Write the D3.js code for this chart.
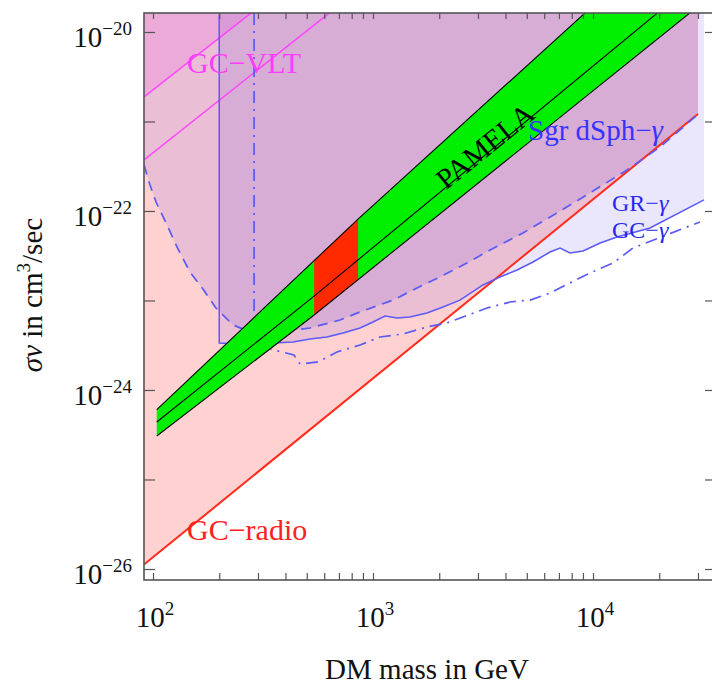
<!DOCTYPE html>
<html><head><meta charset="utf-8">
<script src="https://cdn.jsdelivr.net/npm/d3@7"></script>
<style>
body{margin:0;background:#fff}
svg{display:block}
text{font-family:"Liberation Serif","Times New Roman",serif}
</style>
</head><body>
<svg id="c" width="712" height="687"></svg>
<script>
// ---------------- data ----------------
const xTickValues = [100,200,300,400,500,600,700,800,900,1000,2000,3000,4000,5000,6000,7000,8000,9000,10000,20000,30000];
const xTickLabels = [[100,"2"],[1000,"3"],[10000,"4"]];
const yTickValues = [1e-26,1e-25,1e-24,1e-23,1e-22,1e-21,1e-20];
const yTickLabels = [[1e-26,"−26"],[1e-24,"−24"],[1e-22,"−22"],[1e-20,"−20"]];

// GC-radio bound
const massRadio  = [91, 30000];
const sigmaRadio = [1.12e-26, 1.21e-21];

// GC-VLT bounds (two lines)
const massVLT        = [91, 1000];
const sigmaVLTlow    = [3.72e-22, 3.98e-20];
const sigmaVLThigh   = [1.88e-21, 1.90e-19];

// Sgr dSph - gamma (dashed)
const massSgr  = [91,96.9,103.2,115.8,128.5,147.2,168.7,193.2,231,270,358,517,708,873,1233,1585,2016,2673,3404,4808,6860,9683,14280,20170,30000];
const sigmaSgr = [3.27e-22,1.95e-22,1.26e-22,6.98e-23,3.96e-23,2.08e-23,1.34e-23,8.24e-24,5.32e-24,4.56e-24,4.34e-24,4.93e-24,6.05e-24,7.45e-24,1.01e-23,1.38e-23,1.83e-23,2.62e-23,3.66e-23,5.68e-23,9.51e-23,1.59e-22,2.87e-22,5.19e-22,1.20e-21];

// GC - gamma (solid, with vertical threshold at 200 GeV)
const massGC  = [200,276,351,433,517,618,731,873,1000,1134,1285,1472,1759,2080,2485,3162,3776,4518,5337,6377,7085,7855,9016,10770,12860,18150,31950];
const sigmaGC = [3.35e-24,3.18e-24,3.35e-24,3.44e-24,3.72e-24,3.91e-24,4.34e-24,4.93e-24,5.75e-24,6.71e-24,6.37e-24,6.55e-24,7.24e-24,8.45e-24,1.01e-23,1.49e-23,1.83e-23,2.19e-23,2.69e-23,3.48e-23,3.86e-23,3.40e-23,3.57e-23,4.39e-23,5.12e-23,6.46e-23,1.33e-22];

// GR - gamma (dash-dot, with vertical threshold at ~288 GeV)
const massGR  = [288,288,437,466,562,686,873,1076,1368,1759,2168,2564,3297,4198,5176,6377,7855,9683,12330,15200,30620];
const sigmaGR = [1.63e-20,3.18e-24,2.46e-24,1.95e-24,2.06e-24,2.66e-24,3.18e-24,3.91e-24,4.23e-24,5.06e-24,5.61e-24,6.55e-24,8.24e-24,9.62e-24,1.01e-23,1.21e-23,1.57e-23,2.03e-23,2.62e-23,3.86e-23,7.53e-23];

// PAMELA band
const massPamUp   = [104, 855, 12000];
const sigmaPamUp  = [6.03e-25, 8.13e-23, 2.95e-20];
const massPamMid  = [104, 540, 25120];
const sigmaPamMid = [4.39e-25, 1.12e-23, 2.69e-20];
const massPamLow  = [104, 540, 31620];
const sigmaPamLow = [3.06e-25, 6.89e-24, 2.14e-20];
// red patch inside the band
const massRed      = [540, 855];
const sigmaRedUp   = [2.78e-23, 8.13e-23];
const sigmaRedLow  = [6.89e-24, 1.71e-23];

// ---------------- drawing ----------------
const svg = d3.select("#c");
const x = d3.scaleLog().domain([91, 35480]).range([144, 714]);
const y = d3.scaleLog().domain([Math.pow(10,-26.123), Math.pow(10,-19.788)]).range([580, 13]);
const yTop = y.domain()[1];
const [x0,x1] = x.range(), [y0,y1] = y.range();

svg.append("clipPath").attr("id","clip").append("rect")
  .attr("x",x0).attr("y",y1).attr("width",x1-x0).attr("height",y0-y1);

const line = d3.line().x(d=>x(d[0])).y(d=>y(d[1]));
const poly = pts => line(pts) + "Z";

const g = svg.append("g").attr("clip-path","url(#clip)");

// fills
const radioPts = d3.zip(massRadio, sigmaRadio);
g.append("path").attr("d", poly([...radioPts, [massRadio[1], yTop], [massRadio[0], yTop]]))
  .attr("fill","rgb(255,0,0)").attr("fill-opacity",0.18);

const sgrPts = d3.zip(massSgr, sigmaSgr);
g.append("path").attr("d", poly([...sgrPts, [massSgr[massSgr.length-1], yTop], [massSgr[0], yTop]]))
  .attr("fill","rgb(90,60,230)").attr("fill-opacity",0.13);

const gcPts = d3.zip(massGC, sigmaGC);
g.append("path").attr("d", poly([[massGC[0], yTop], ...gcPts, [massGC[massGC.length-1], yTop]]))
  .attr("fill","rgb(60,40,230)").attr("fill-opacity",0.11);

const vltHi = d3.zip(massVLT, sigmaVLThigh);
g.append("path").attr("d", poly([...vltHi, [massVLT[0], sigmaVLThigh[1]]]))
  .attr("fill","rgb(255,0,255)").attr("fill-opacity",0.1);

// lines
g.append("path").attr("d", line(radioPts)).attr("fill","none").attr("stroke","#ff2a1a").attr("stroke-width",2);
g.append("path").attr("d", line(vltHi)).attr("fill","none").attr("stroke","#ff44ff").attr("stroke-width",1.5);
g.append("path").attr("d", line(d3.zip(massVLT, sigmaVLTlow))).attr("fill","none").attr("stroke","#ff44ff").attr("stroke-width",1.5);
g.append("path").attr("d", line(sgrPts)).attr("fill","none").attr("stroke","#5a5af5").attr("stroke-width",1.7).attr("stroke-dasharray","10,7");
g.append("path").attr("d", line([[massGC[0], yTop], ...gcPts])).attr("fill","none").attr("stroke","#5a5af5").attr("stroke-width",1.5);
g.append("path").attr("d", line(d3.zip(massGR, sigmaGR))).attr("fill","none").attr("stroke","#5a5af5").attr("stroke-width",1.7).attr("stroke-dasharray","12,6,2,6");

// PAMELA band
const upPts = d3.zip(massPamUp, sigmaPamUp), lowPts = d3.zip(massPamLow, sigmaPamLow), midPts = d3.zip(massPamMid, sigmaPamMid);
g.append("path").attr("d", poly([...upPts, ...lowPts.slice().reverse()])).attr("fill","#00ee00");
g.append("path").attr("d", poly([[massRed[0],sigmaRedUp[0]],[massRed[1],sigmaRedUp[1]],[massRed[1],sigmaRedLow[1]],[massRed[0],sigmaRedLow[0]]])).attr("fill","#ff2a00");
[upPts, midPts, lowPts].forEach(p => g.append("path").attr("d", line(p)).attr("fill","none").attr("stroke","#000").attr("stroke-width",1.1));

// labels in plot
const lab = (t, px, py, col) => svg.append("text").attr("x",px).attr("y",py).attr("fill",col).attr("font-size",30).text(t);
lab("GC−VLT", 187, 73, "#ff3cff");
lab("GC−radio", 187, 540, "#ff2020");
const sgrT = svg.append("text").attr("x",528).attr("y",140).attr("fill","#3434ff").attr("font-size",29);
sgrT.append("tspan").text("Sgr dSph−");
sgrT.append("tspan").attr("font-style","italic").text("γ");
[["GR−",612,211],["GC−",612,238]].forEach(([t,px,py])=>{
  const tt = svg.append("text").attr("x",px).attr("y",py).attr("fill","#2828f0").attr("font-size",24);
  tt.append("tspan").text(t);
  tt.append("tspan").attr("font-style","italic").text("γ");
});
svg.append("text").attr("transform","translate(485,146) rotate(-39)").attr("text-anchor","middle")
  .attr("dominant-baseline","central").attr("font-size",29).attr("fill","#000").text("PAMELA");

// axes ticks
const tickStyle = sel => { sel.select(".domain").remove(); sel.selectAll("line").attr("stroke","#555").attr("stroke-width",1.2); sel.selectAll("text").remove(); };
svg.append("g").attr("transform",`translate(0,${y0})`).call(d3.axisBottom(x).tickValues(xTickValues).tickSize(-7)).call(tickStyle);
svg.append("g").attr("transform",`translate(0,${y1})`).call(d3.axisTop(x).tickValues(xTickValues).tickSize(-6)).call(tickStyle);
svg.append("g").attr("transform",`translate(${x0},0)`).call(d3.axisLeft(y).tickValues(yTickValues).tickSize(-11)).call(tickStyle);
svg.append("g").attr("transform",`translate(${x1},0)`).call(d3.axisRight(y).tickValues(yTickValues).tickSize(-9)).call(tickStyle);

// frame
svg.append("rect").attr("x",x0).attr("y",y1).attr("width",x1-x0).attr("height",y0-y1)
  .attr("fill","none").attr("stroke","#555").attr("stroke-width",1.6);

// tick labels
xTickLabels.forEach(([v,e])=>{
  const t = svg.append("text").attr("x",x(v)+2).attr("y",627).attr("text-anchor","middle").attr("font-size",29).attr("fill","#111");
  t.append("tspan").text("10");
  t.append("tspan").attr("font-size",19).attr("dy",-12).text(e);
});
yTickLabels.forEach(([v,e])=>{
  const t = svg.append("text").attr("x",132).attr("y",y(v)+15).attr("text-anchor","end").attr("font-size",29).attr("fill","#111");
  t.append("tspan").text("10");
  t.append("tspan").attr("font-size",19).attr("dy",-12).text(e);
});

// axis titles
svg.append("text").attr("x",427).attr("y",679).attr("text-anchor","middle").attr("font-size",29).attr("fill","#111").text("DM mass in GeV");
const yt = svg.append("text").attr("transform","translate(42,295) rotate(-90)").attr("text-anchor","middle").attr("font-size",29).attr("fill","#111");
yt.append("tspan").attr("font-style","italic").text("σv");
yt.append("tspan").text(" in cm");
yt.append("tspan").attr("font-size",19).attr("dy",-12).text("3");
yt.append("tspan").attr("dy",12).text("/sec");
</script>
</body></html>
